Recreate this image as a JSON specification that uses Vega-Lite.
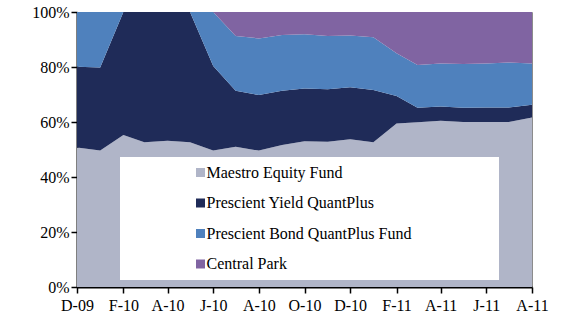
{
  "$schema": "https://vega.github.io/schema/vega-lite/v6.json",
  "width": 455,
  "height": 275,
  "autosize": {"type": "none"},
  "padding": {"left": 77, "top": 12, "right": 31, "bottom": 38},
  "background": "white",
  "config": {
    "font": "Liberation Serif",
    "view": {"stroke": "#8c8c8c", "strokeWidth": 1},
    "axis": {
      "labelFont": "Liberation Serif",
      "labelFontSize": 16,
      "labelColor": "black",
      "domainColor": "black",
      "domainWidth": 2,
      "tickColor": "black",
      "tickWidth": 1.5,
      "tickSize": 6,
      "grid": false,
      "title": null
    },
    "legend": {
      "labelFont": "Liberation Serif",
      "labelFontSize": 16,
      "labelColor": "black"
    }
  },
  "data": {
    "values": [
      {"month": "2009-12-01", "Maestro Equity Fund": 50.7, "Prescient Yield QuantPlus": 29.4, "Prescient Bond QuantPlus Fund": 19.9, "Central Park": 0},
      {"month": "2010-01-01", "Maestro Equity Fund": 49.6, "Prescient Yield QuantPlus": 30.2, "Prescient Bond QuantPlus Fund": 20.2, "Central Park": 0},
      {"month": "2010-02-01", "Maestro Equity Fund": 55.3, "Prescient Yield QuantPlus": 44.7, "Prescient Bond QuantPlus Fund": 0, "Central Park": 0},
      {"month": "2010-03-01", "Maestro Equity Fund": 52.6, "Prescient Yield QuantPlus": 47.4, "Prescient Bond QuantPlus Fund": 0, "Central Park": 0},
      {"month": "2010-04-01", "Maestro Equity Fund": 53.2, "Prescient Yield QuantPlus": 46.8, "Prescient Bond QuantPlus Fund": 0, "Central Park": 0},
      {"month": "2010-05-01", "Maestro Equity Fund": 52.6, "Prescient Yield QuantPlus": 47.4, "Prescient Bond QuantPlus Fund": 0, "Central Park": 0},
      {"month": "2010-06-01", "Maestro Equity Fund": 49.6, "Prescient Yield QuantPlus": 30.8, "Prescient Bond QuantPlus Fund": 19.6, "Central Park": 0},
      {"month": "2010-07-01", "Maestro Equity Fund": 51.0, "Prescient Yield QuantPlus": 20.4, "Prescient Bond QuantPlus Fund": 19.9, "Central Park": 8.7},
      {"month": "2010-08-01", "Maestro Equity Fund": 49.6, "Prescient Yield QuantPlus": 20.2, "Prescient Bond QuantPlus Fund": 20.6, "Central Park": 9.6},
      {"month": "2010-09-01", "Maestro Equity Fund": 51.6, "Prescient Yield QuantPlus": 19.8, "Prescient Bond QuantPlus Fund": 20.2, "Central Park": 8.4},
      {"month": "2010-10-01", "Maestro Equity Fund": 53.0, "Prescient Yield QuantPlus": 19.2, "Prescient Bond QuantPlus Fund": 19.7, "Central Park": 8.1},
      {"month": "2010-11-01", "Maestro Equity Fund": 52.8, "Prescient Yield QuantPlus": 19.1, "Prescient Bond QuantPlus Fund": 19.4, "Central Park": 8.7},
      {"month": "2010-12-01", "Maestro Equity Fund": 53.7, "Prescient Yield QuantPlus": 18.9, "Prescient Bond QuantPlus Fund": 18.9, "Central Park": 8.5},
      {"month": "2011-01-01", "Maestro Equity Fund": 52.6, "Prescient Yield QuantPlus": 19.0, "Prescient Bond QuantPlus Fund": 19.2, "Central Park": 9.2},
      {"month": "2011-02-01", "Maestro Equity Fund": 59.5, "Prescient Yield QuantPlus": 10.0, "Prescient Bond QuantPlus Fund": 15.5, "Central Park": 15.0},
      {"month": "2011-03-01", "Maestro Equity Fund": 59.9, "Prescient Yield QuantPlus": 5.3, "Prescient Bond QuantPlus Fund": 15.5, "Central Park": 19.3},
      {"month": "2011-04-01", "Maestro Equity Fund": 60.5, "Prescient Yield QuantPlus": 5.1, "Prescient Bond QuantPlus Fund": 15.7, "Central Park": 18.7},
      {"month": "2011-05-01", "Maestro Equity Fund": 60.0, "Prescient Yield QuantPlus": 5.2, "Prescient Bond QuantPlus Fund": 15.9, "Central Park": 18.9},
      {"month": "2011-06-01", "Maestro Equity Fund": 60.0, "Prescient Yield QuantPlus": 5.3, "Prescient Bond QuantPlus Fund": 16.0, "Central Park": 18.7},
      {"month": "2011-07-01", "Maestro Equity Fund": 60.0, "Prescient Yield QuantPlus": 5.3, "Prescient Bond QuantPlus Fund": 16.3, "Central Park": 18.4},
      {"month": "2011-08-01", "Maestro Equity Fund": 61.6, "Prescient Yield QuantPlus": 4.7, "Prescient Bond QuantPlus Fund": 15.0, "Central Park": 18.7}
    ]
  },
  "transform": [
    {"fold": ["Maestro Equity Fund", "Prescient Yield QuantPlus", "Prescient Bond QuantPlus Fund", "Central Park"], "as": ["fund", "share"]},
    {"calculate": "indexof(['Maestro Equity Fund', 'Prescient Yield QuantPlus', 'Prescient Bond QuantPlus Fund', 'Central Park'], datum.fund)", "as": "stackOrder"}
  ],
  "mark": {"type": "area", "interpolate": "linear"},
  "encoding": {
    "x": {
      "field": "month",
      "type": "temporal",
      "scale": {"type": "utc", "nice": false},
      "axis": {
        "values": [
          {"year": 2009, "month": 12, "date": 1, "utc": true},
          {"year": 2010, "month": 2, "date": 1, "utc": true},
          {"year": 2010, "month": 4, "date": 1, "utc": true},
          {"year": 2010, "month": 6, "date": 1, "utc": true},
          {"year": 2010, "month": 8, "date": 1, "utc": true},
          {"year": 2010, "month": 10, "date": 1, "utc": true},
          {"year": 2010, "month": 12, "date": 1, "utc": true},
          {"year": 2011, "month": 2, "date": 1, "utc": true},
          {"year": 2011, "month": 4, "date": 1, "utc": true},
          {"year": 2011, "month": 6, "date": 1, "utc": true},
          {"year": 2011, "month": 8, "date": 1, "utc": true}
        ],
        "labelExpr": "substring(utcFormat(datum.value, '%b'), 0, 1) + '-' + utcFormat(datum.value, '%y')",
        "labelPadding": 4,
        "labelFlush": false,
        "labelOverlap": false
      }
    },
    "y": {
      "field": "share",
      "type": "quantitative",
      "stack": "zero",
      "scale": {"domain": [0, 100], "nice": false},
      "axis": {
        "values": [0, 20, 40, 60, 80, 100],
        "labelExpr": "datum.value + '%'",
        "labelPadding": 2
      }
    },
    "order": {"field": "stackOrder", "type": "quantitative", "sort": "ascending"},
    "color": {
      "field": "fund",
      "type": "nominal",
      "sort": ["Maestro Equity Fund", "Prescient Yield QuantPlus", "Prescient Bond QuantPlus Fund", "Central Park"],
      "scale": {
        "domain": ["Maestro Equity Fund", "Prescient Yield QuantPlus", "Prescient Bond QuantPlus Fund", "Central Park"],
        "range": ["#b0b5c8", "#1f2b58", "#4f81bd", "#8064a2"]
      },
      "legend": {
        "title": "\u00a0",
        "titleOrient": "right",
        "titlePadding": 80,
        "titleFontSize": 16,
        "orient": "none",
        "legendX": 43,
        "legendY": 145,
        "direction": "vertical",
        "fillColor": "white",
        "padding": 7.5,
        "symbolType": "square",
        "symbolSize": 81,
        "symbolStrokeWidth": 0,
        "symbolOpacity": 1,
        "symbolOffset": 65,
        "labelOffset": -2,
        "rowPadding": 14.5,
        "labelLimit": 400
      }
    }
  }
}
